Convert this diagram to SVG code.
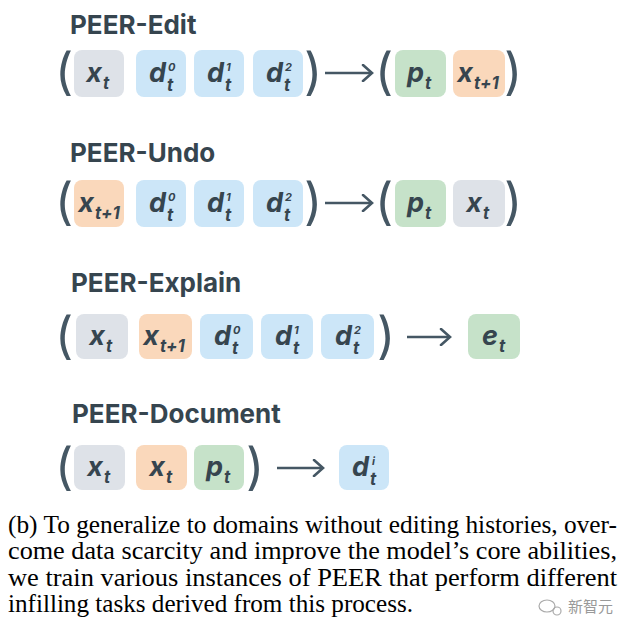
<svg xmlns="http://www.w3.org/2000/svg" width="634" height="635" viewBox="0 0 634 635">
<defs>
<style>
.t{font-family:Inter,"Liberation Sans",sans-serif;font-weight:700;font-size:26px;fill:#36454f}
.g{fill:#dee2e8}.bl{fill:#cce6f8}.gr{fill:#c6e2c9}.o{fill:#fad8bb}
.m{font-family:Inter,"Liberation Sans",sans-serif;font-weight:700;font-style:italic;font-size:27px;fill:#36454f}
.s{font-family:Inter,"Liberation Sans",sans-serif;font-weight:700;font-style:italic;font-size:17px;fill:#36454f}
.u{font-family:Inter,"Liberation Sans",sans-serif;font-weight:700;font-style:italic;font-size:11px;fill:#36454f}
.p{font-family:Inter,"Liberation Sans",sans-serif;font-weight:400;font-size:50px;fill:#455764}
.c{font-family:"Liberation Serif","Times New Roman",serif;font-size:25px;fill:#000}
.a{stroke:#455764;stroke-width:2.6;fill:none}
</style>
<marker id="ah" markerWidth="14" markerHeight="18" refX="12" refY="9" orient="auto" markerUnits="userSpaceOnUse">
<path d="M3,1 L12,9 L3,17" fill="none" stroke="#455764" stroke-width="2.6" stroke-linecap="round"/>
</marker>
</defs>
<rect width="634" height="635" fill="#fff"/>

<!-- Row 1: PEER-Edit -->
<g id="edit">
<text class="t" x="70" y="34">PEER-Edit</text>
<text class="p" x="55" y="89">(</text>
<g id="e-xt"><rect class="g" x="74" y="50" width="50" height="47" rx="8"/><text class="m" x="102" y="82" text-anchor="end">x</text><text class="s" x="103" y="89">t</text></g>
<g id="e-d0"><rect class="bl" x="136" y="50" width="50" height="47" rx="8"/><text class="m" x="166" y="82" text-anchor="end">d</text><text class="s" x="167" y="91">t</text><text class="u" x="168" y="71">0</text></g>
<g id="e-d1"><rect class="bl" x="194" y="50" width="50" height="47" rx="8"/><text class="m" x="224" y="82" text-anchor="end">d</text><text class="s" x="225" y="91">t</text><text class="u" x="226" y="71">1</text></g>
<g id="e-d2"><rect class="bl" x="253" y="50" width="50" height="47" rx="8"/><text class="m" x="283" y="82" text-anchor="end">d</text><text class="s" x="284" y="91">t</text><text class="u" x="285" y="71">2</text></g>
<text class="p" x="304" y="89">)</text>
<text class="p" x="375" y="89">(</text>
<g id="e-pt"><rect class="gr" x="395" y="50" width="51" height="47" rx="8"/><text class="m" x="424" y="82" text-anchor="end">p</text><text class="s" x="425" y="89">t</text></g>
<g id="e-xt1"><rect class="o" x="453" y="50" width="52" height="47" rx="8"/><text class="m" x="473" y="82" text-anchor="end">x</text><text class="s" x="474" y="89">t+1</text></g>
<text class="p" x="504" y="89">)</text>
</g>

<!-- Row 2: PEER-Undo -->
<g id="undo">
<text class="t" x="70" y="162">PEER-Undo</text>
<text class="p" x="55" y="219">(</text>
<g id="u-xt1"><rect class="o" x="74" y="180" width="50" height="47" rx="8"/><text class="m" x="94" y="212" text-anchor="end">x</text><text class="s" x="95" y="219">t+1</text></g>
<g id="u-d0"><rect class="bl" x="136" y="180" width="50" height="47" rx="8"/><text class="m" x="166" y="212" text-anchor="end">d</text><text class="s" x="167" y="221">t</text><text class="u" x="168" y="201">0</text></g>
<g id="u-d1"><rect class="bl" x="194" y="180" width="50" height="47" rx="8"/><text class="m" x="224" y="212" text-anchor="end">d</text><text class="s" x="225" y="221">t</text><text class="u" x="226" y="201">1</text></g>
<g id="u-d2"><rect class="bl" x="253" y="180" width="50" height="47" rx="8"/><text class="m" x="283" y="212" text-anchor="end">d</text><text class="s" x="284" y="221">t</text><text class="u" x="285" y="201">2</text></g>
<text class="p" x="304" y="219">)</text>
<text class="p" x="375" y="219">(</text>
<g id="u-pt"><rect class="gr" x="395" y="180" width="51" height="47" rx="8"/><text class="m" x="424" y="212" text-anchor="end">p</text><text class="s" x="425" y="219">t</text></g>
<g id="u-xt"><rect class="g" x="453" y="180" width="52" height="47" rx="8"/><text class="m" x="482" y="212" text-anchor="end">x</text><text class="s" x="483" y="219">t</text></g>
<text class="p" x="504" y="219">)</text>
</g>

<!-- Row 3: PEER-Explain -->
<g id="explain">
<text class="t" x="71" y="292">PEER-Explain</text>
<text class="p" x="55" y="353">(</text>
<g id="x-xt"><rect class="g" x="76" y="314" width="52" height="45" rx="8"/><text class="m" x="105" y="345" text-anchor="end">x</text><text class="s" x="106" y="352">t</text></g>
<g id="x-xt1"><rect class="o" x="139" y="314" width="53" height="45" rx="8"/><text class="m" x="159" y="345" text-anchor="end">x</text><text class="s" x="160" y="352">t+1</text></g>
<g id="x-d0"><rect class="bl" x="200" y="314" width="53" height="45" rx="8"/><text class="m" x="231" y="345" text-anchor="end">d</text><text class="s" x="232" y="354">t</text><text class="u" x="233" y="334">0</text></g>
<g id="x-d1"><rect class="bl" x="261" y="314" width="52" height="45" rx="8"/><text class="m" x="292" y="345" text-anchor="end">d</text><text class="s" x="293" y="354">t</text><text class="u" x="294" y="334">1</text></g>
<g id="x-d2"><rect class="bl" x="321" y="314" width="53" height="45" rx="8"/><text class="m" x="352" y="345" text-anchor="end">d</text><text class="s" x="353" y="354">t</text><text class="u" x="354" y="334">2</text></g>
<text class="p" x="377" y="353">)</text>
<g id="x-et"><rect class="gr" x="468" y="314" width="52" height="45" rx="8"/><text class="m" x="498" y="345" text-anchor="end">e</text><text class="s" x="499" y="352">t</text></g>
</g>

<!-- Row 4: PEER-Document -->
<g id="document">
<text class="t" x="72" y="423">PEER-Document</text>
<text class="p" x="55" y="484">(</text>
<g id="d-xt"><rect class="g" x="74" y="445" width="51" height="45" rx="8"/><text class="m" x="103" y="476" text-anchor="end">x</text><text class="s" x="104" y="483">t</text></g>
<g id="d-xt2"><rect class="o" x="136" y="445" width="51" height="45" rx="8"/><text class="m" x="165" y="476" text-anchor="end">x</text><text class="s" x="166" y="483">t</text></g>
<g id="d-pt"><rect class="gr" x="194" y="445" width="50" height="45" rx="8"/><text class="m" x="223" y="476" text-anchor="end">p</text><text class="s" x="224" y="483">t</text></g>
<text class="p" x="246" y="484">)</text>
<g id="d-di"><rect class="bl" x="339" y="445" width="50" height="45" rx="8"/><text class="m" x="369" y="476" text-anchor="end">d</text><text class="s" x="370" y="485">t</text><text class="u" x="372" y="465">i</text></g>
</g>

<!-- connectors -->
<g id="connectors">
<line class="a" x1="325" y1="73" x2="372" y2="73" marker-end="url(#ah)"/>
<line class="a" x1="325" y1="203" x2="372" y2="203" marker-end="url(#ah)"/>
<line class="a" x1="407" y1="337" x2="450" y2="337" marker-end="url(#ah)"/>
<line class="a" x1="277" y1="468" x2="323" y2="468" marker-end="url(#ah)"/>
</g>

<!-- caption -->
<g id="caption">
<text class="c" x="8" y="533" textLength="609" lengthAdjust="spacingAndGlyphs">(b) To generalize to domains without editing histories, over-</text>
<text class="c" x="8" y="559" textLength="609" lengthAdjust="spacingAndGlyphs">come data scarcity and improve the model’s core abilities,</text>
<text class="c" x="8" y="586" textLength="609" lengthAdjust="spacingAndGlyphs">we train various instances of PEER that perform different</text>
<text class="c" x="8" y="612" textLength="405" lengthAdjust="spacingAndGlyphs">infilling tasks derived from this process.</text>
</g>

<!-- watermark -->
<g id="watermark" fill="none" stroke="#aaa" stroke-width="1.2">
<ellipse cx="547" cy="606" rx="8" ry="6"/>
<circle cx="557" cy="611" r="4"/>
<text x="568" y="612" font-family="'Noto Sans CJK SC',sans-serif" font-size="15" fill="#999" stroke="none">新智元</text>
</g>
</svg>
